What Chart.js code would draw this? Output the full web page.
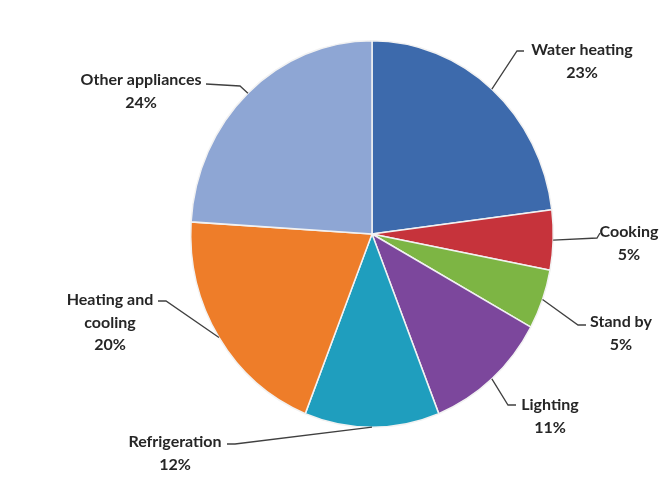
<!DOCTYPE html>
<html><head><meta charset="utf-8">
<script src="https://cdn.jsdelivr.net/npm/chart.js@4.4.0/dist/chart.umd.min.js"></script>
<style>html,body{margin:0;padding:0;background:#fff}#wrap{width:660px;height:479px;position:relative}</style>
</head><body><div id="wrap"><canvas id="c" width="660" height="479"></canvas></div>
<script>
// ---- data ----
const categories = ["Water heating", "Cooking", "Stand by", "Lighting", "Refrigeration", "Heating and cooling", "Other appliances"];
const shares = [23, 5, 5, 11, 12, 20, 24];
const labelLines = [["Water heating"], ["Cooking"], ["Stand by"], ["Lighting"], ["Refrigeration"], ["Heating and", "cooling"], ["Other appliances"]];

// ---- styling / layout ----
const sliceColors = ["#3d6aac", "#c6333b", "#7db544", "#7c479c", "#1f9ebe", "#ee7d29", "#8ea6d4"];
const K = 1.066; // vertical stretch of the pie (reference is slightly elliptical)
const calloutLayout = [
  {elbow: [517, 51], end: [524, 51], text: [582, 50]},
  {elbow: [597, 238], end: [600, 233], text: [629, 232]},
  {elbow: [578, 325], end: [586, 325], text: [621, 322]},
  {elbow: [508, 405], end: [516, 405], text: [550, 405]},
  {elbow: [235, 444], end: [227, 444], text: [175, 442]},
  {elbow: [166, 301], end: [158, 301], text: [110, 300]},
  {elbow: [240, 86], end: [206, 84], text: [141, 80]}
];
const LINE_H = 22.5;
const FONT = "bold 16px Lato, 'Open Sans', 'DejaVu Sans', sans-serif";

const ellipsePlugin = {
  id: 'ellipse',
  beforeDatasetsDraw(chart) {
    const a = chart.getDatasetMeta(0).data[0];
    const ctx = chart.ctx;
    ctx.save();
    ctx.translate(a.x, a.y);
    ctx.scale(1, K);
    ctx.translate(-a.x, -a.y);
  },
  afterDatasetsDraw(chart) { chart.ctx.restore(); }
};

const calloutPlugin = {
  id: 'callouts',
  afterDraw(chart) {
    const ctx = chart.ctx;
    const arcs = chart.getDatasetMeta(0).data;
    ctx.save();
    arcs.forEach((arc, i) => {
      const p = arc.getProps(['x', 'y', 'startAngle', 'endAngle', 'outerRadius'], true);
      const mid = (p.startAngle + p.endAngle) / 2;
      const ex = p.x + p.outerRadius * Math.cos(mid);
      const ey = p.y + K * p.outerRadius * Math.sin(mid);
      const L = calloutLayout[i];
      ctx.strokeStyle = '#404040';
      ctx.lineWidth = 1.3;
      ctx.beginPath();
      ctx.moveTo(ex, ey);
      ctx.lineTo(L.elbow[0], L.elbow[1]);
      ctx.lineTo(L.end[0], L.end[1]);
      ctx.stroke();
      ctx.fillStyle = '#262626';
      ctx.font = FONT;
      ctx.textAlign = 'center';
      ctx.textBaseline = 'middle';
      const lines = labelLines[i].concat([shares[i] + '%']);
      lines.forEach((t, j) => ctx.fillText(t, L.text[0], L.text[1] + j * LINE_H));
    });
    ctx.restore();
  }
};

new Chart(document.getElementById('c'), {
  type: 'pie',
  data: {
    labels: categories,
    datasets: [{
      data: shares,
      backgroundColor: sliceColors,
      borderColor: '#f2f2f2',
      borderWidth: 1.5
    }]
  },
  options: {
    responsive: false,
    animation: false,
    devicePixelRatio: 1,
    layout: {padding: {left: 190, right: 106, top: 52, bottom: 63}},
    plugins: {legend: {display: false}, tooltip: {enabled: false}}
  },
  plugins: [ellipsePlugin, calloutPlugin]
});
</script>
</body></html>
